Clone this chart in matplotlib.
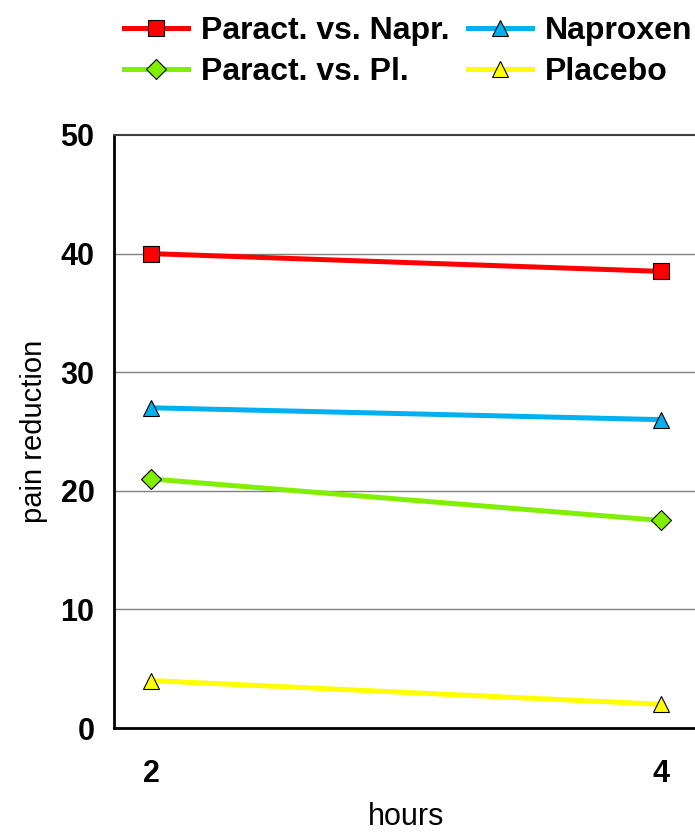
import matplotlib
matplotlib.use("Agg")
from matplotlib import pyplot as plt

# chart data
hours = [2, 4]
paract_vs_napr = [40, 38.5]
naproxen = [27, 26]
paract_vs_pl = [21, 17.5]
placebo = [4, 2]

plt.rcParams['font.family'] = ['Liberation Sans', 'DejaVu Sans']

fig = plt.figure(figsize=(6.95, 8.32), dpi=100)
# axes right edge runs off the figure like the original
ax = fig.add_axes([114 / 695, 1 - 728 / 832, 584 / 695, 593 / 832])

series = [
  (paract_vs_napr, 'Paract. vs. Napr.', '#ff0000', 's', 12),
  (naproxen, 'Naproxen', '#00b0f0', '^', 12),
  (paract_vs_pl, 'Paract. vs. Pl.', '#80f000', 'D', 10),
  (placebo, 'Placebo', '#ffff00', '^', 12),
]

handles = {}
for vals, label, color, marker, ms in series:
  h, = ax.plot(hours, vals, color=color, lw=3.6, marker=marker, markersize=ms,
               markerfacecolor=color, markeredgecolor='black', markeredgewidth=0.8,
               label=label, zorder=3, clip_on=False)
  handles[label] = h

ax.set_xlim(1.855, 4.145)
ax.set_ylim(0, 50)
ax.set_xticks(hours)
ax.set_yticks(range(0, 51, 10))
ax.tick_params(length=0, labelsize=22)
ax.tick_params(axis='x', pad=22)
ax.tick_params(axis='y', pad=14)
for lab in ax.get_xticklabels() + ax.get_yticklabels():
  lab.set_fontweight('bold')

for y in range(10, 50, 10):
  ax.axhline(y, color='#808080', lw=1, zorder=1)

ax.spines['right'].set_visible(False)
ax.spines['top'].set_color('#404040')
ax.spines['top'].set_linewidth(1.5)
ax.spines['left'].set_linewidth(2)
ax.spines['bottom'].set_linewidth(2)

ax.set_xlabel('hours', fontsize=22, labelpad=10)
ax.set_ylabel('pain reduction', fontsize=21, labelpad=9)

order = ['Paract. vs. Napr.', 'Paract. vs. Pl.', 'Naproxen', 'Placebo']
fig.legend([handles[k] for k in order], order, ncol=2, frameon=False,
           loc='upper left', bbox_to_anchor=(108 / 695, 1.0),
           prop={'size': 23, 'weight': 'bold'}, handlelength=2.0,
           handletextpad=0.4, columnspacing=0.6, labelspacing=0.35,
           borderaxespad=0.1)

fig.savefig('out.png', dpi=100)
